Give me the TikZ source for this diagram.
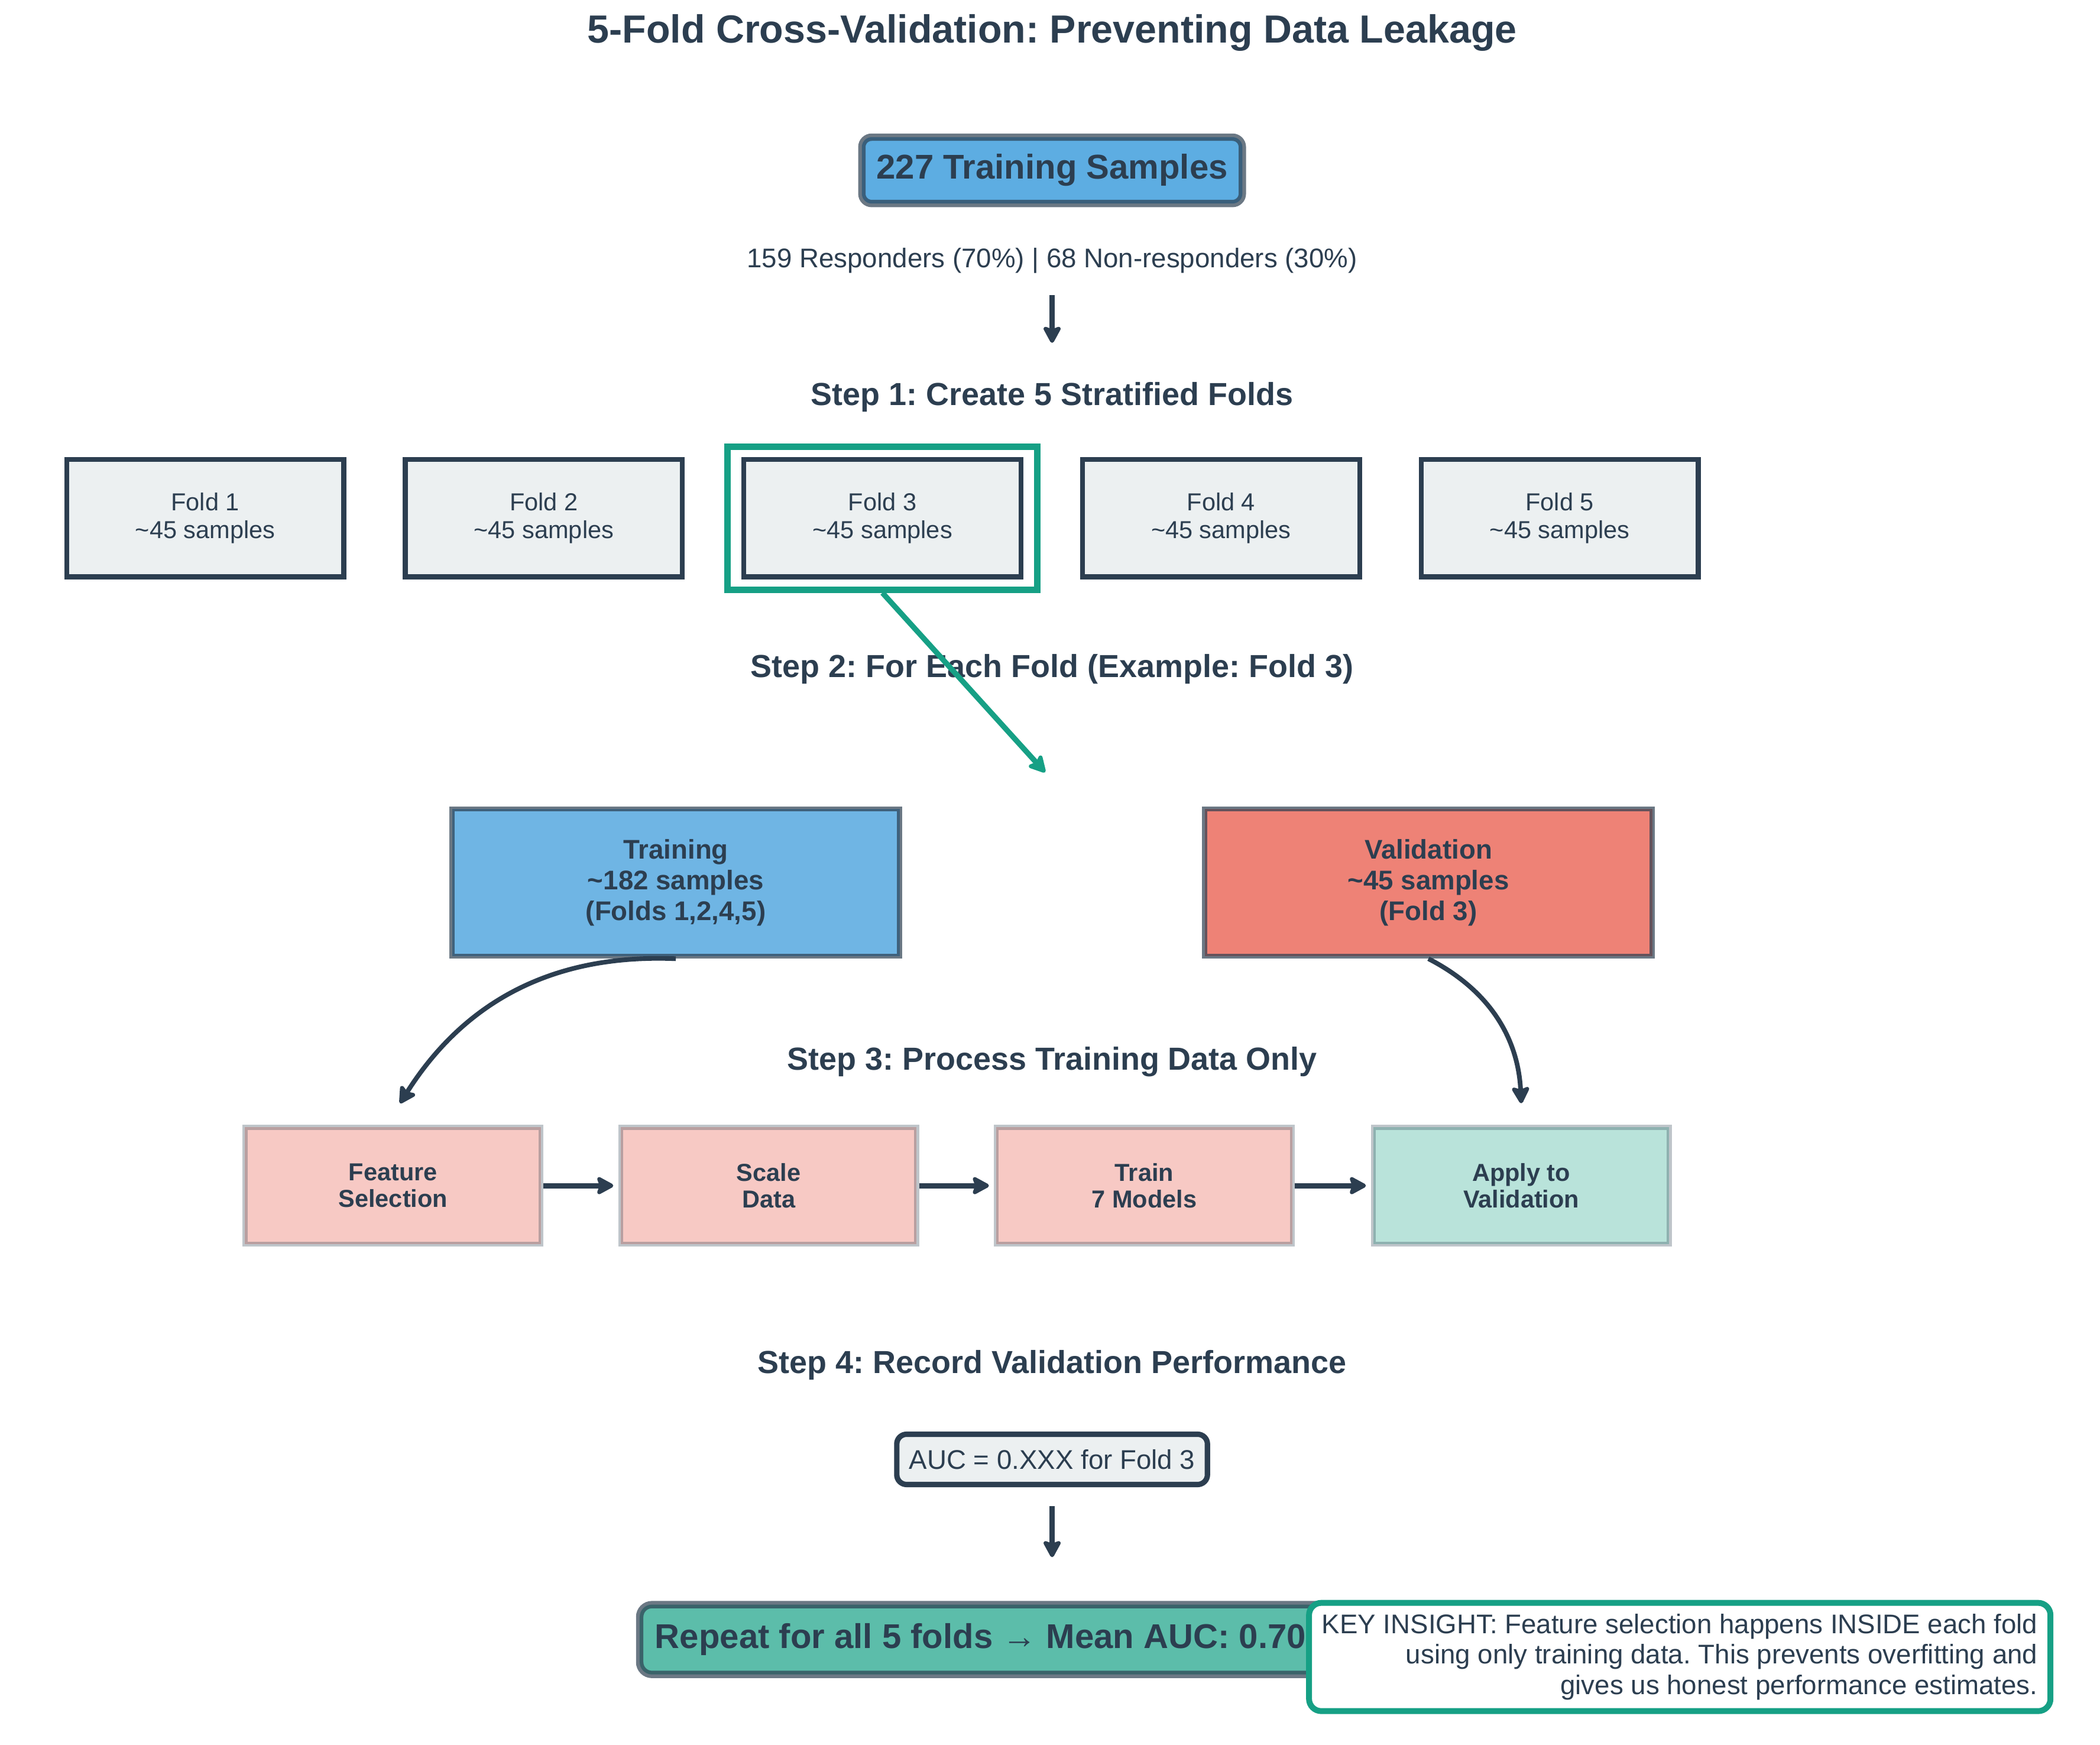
\documentclass[tikz,border=0pt]{standalone}
\usepackage{fontspec}
\setmainfont{Liberation Sans}
\usetikzlibrary{arrows.meta, positioning, fit}
\frenchspacing
\definecolor{darknavy}{RGB}{44, 62, 80}
\definecolor{sampblue}{RGB}{93, 173, 226}
\definecolor{trainblue}{RGB}{111, 181, 228}
\definecolor{valred}{RGB}{238, 130, 118}
\definecolor{procpink}{RGB}{247, 201, 196}
\definecolor{applygreen}{RGB}{185, 227, 218}
\definecolor{foldgray}{RGB}{236, 240, 241}
\definecolor{tealgreen}{RGB}{22, 160, 133}
\definecolor{repeatgreen}{RGB}{92, 189, 170}

\tikzset{
  steplabel/.style={font=\fontsize{13}{15}\selectfont\bfseries, text=darknavy},
  foldbox/.style={draw=darknavy, line width=2pt, fill=foldgray, minimum width=3.97cm, minimum height=1.68cm, align=center, text=darknavy, font=\fontsize{10}{11.5}\selectfont},
  splitbox/.style={draw=darknavy, draw opacity=0.7, line width=2pt, minimum width=6.41cm, minimum height=2.11cm, align=center, text=darknavy, font=\fontsize{11}{12.5}\selectfont\bfseries},
  procbox/.style={draw=darknavy, draw opacity=0.3, line width=2pt, fill=procpink, minimum width=4.24cm, minimum height=1.67cm, align=center, text=darknavy, font=\fontsize{10}{11}\selectfont\bfseries},
  darrow/.style={draw=darknavy, line width=2.2pt, -{Stealth[length=8pt, width=8.5pt, round, inset=1.5pt]}},
}

\begin{document}
\begin{tikzpicture}
  \useasboundingbox (0, 0) rectangle (30.08, 24.99);

  % Title
  \node[font=\fontsize{16}{19}\selectfont\bfseries, text=darknavy] (title) at (15.07, 24.52) {5-Fold Cross-Validation: Preventing Data Leakage};

  % Dataset
  \node[draw=darknavy, draw opacity=0.7, line width=3pt, fill=sampblue, rounded corners=4pt, minimum width=5.45cm, minimum height=0.95cm, font=\fontsize{14}{16}\selectfont\bfseries, text=darknavy] (total) at (15.07, 22.55) {227 Training Samples};
  \node[font=\fontsize{11}{13}\selectfont, text=darknavy] (classes) at (15.07, 21.26) {159 Responders (70\%) | 68 Non-responders (30\%)};
  \coordinate (a1s) at (15.07, 20.76);
  \coordinate (a1e) at (15.07, 20.08);
  \draw[darrow] (a1s) -- (a1e);

  % Step 1: folds
  \node[steplabel] (step1) at (15.07, 19.30) {Step 1: Create 5 Stratified Folds};
  \foreach \i in {1,...,5}
    \node[foldbox] (f\i) at ({2.94 + (\i-1)*4.85}, 17.57) {Fold \i\\\textasciitilde45 samples};
  \node[draw=tealgreen, line width=2.6pt, fit=(f3), inner xsep=0.2cm, inner ysep=0.15cm] (pick) {};

  % Step 2: split
  \node[steplabel] (step2) at (15.07, 15.41) {Step 2: For Each Fold (Example: Fold 3)};
  \coordinate (a2e) at (14.97, 13.93);
  \draw[darrow, draw=tealgreen] (pick.south) -- (a2e);
  \node[splitbox, fill=trainblue] (train) at (9.68, 12.35) {Training\\\textasciitilde182 samples\\(Folds 1,2,4,5)};
  \node[splitbox, fill=valred] (valid) at (20.46, 12.35) {Validation\\\textasciitilde45 samples\\(Fold 3)};
  \coordinate (a3e) at (5.73, 9.19);
  \coordinate (a4e) at (21.79, 9.19);
  \draw[darrow, line width=1.9pt] (train.south) to[bend right=30] (a3e);
  \draw[darrow, line width=1.9pt] (valid.south) to[bend left=30] (a4e);

  % Step 3: pipeline
  \node[steplabel] (step3) at (15.07, 9.78) {Step 3: Process Training Data Only};
  \node[procbox] (p1) at (5.63, 8.01) {Feature\\Selection};
  \node[procbox] (p2) at (11.01, 8.01) {Scale\\Data};
  \node[procbox] (p3) at (16.39, 8.01) {Train\\7 Models};
  \node[procbox, fill=applygreen] (p4) at (21.79, 8.01) {Apply to\\Validation};
  \foreach \a/\b in {p1/p2, p2/p3, p3/p4}
    \draw[darrow, shorten >=2pt] (\a) -- (\b);

  % Step 4: result
  \node[steplabel] (step4) at (15.07, 5.44) {Step 4: Record Validation Performance};
  \node[draw=darknavy, line width=2.2pt, fill=foldgray, rounded corners=4pt, minimum width=4.45cm, minimum height=0.72cm, font=\fontsize{11}{13}\selectfont, text=darknavy] (auc) at (15.07, 4.09) {AUC = 0.XXX for Fold 3};
  \coordinate (a5s) at (15.07, 3.42);
  \coordinate (a5e) at (15.07, 2.69);
  \draw[darrow] (a5s) -- (a5e);
  \node[draw=darknavy, draw opacity=0.7, line width=3pt, fill=repeatgreen, rounded corners=5pt, anchor=west, minimum height=1.0cm, inner xsep=0.22cm, font=\fontsize{14}{16}\selectfont\bfseries, text=darknavy] (repeat) at (9.11, 1.51) {Repeat for all 5 folds → Mean AUC: 0.705};

  % Key insight
  \node[draw=tealgreen, line width=2.4pt, fill=white, rounded corners=5pt, minimum width=10.62cm, minimum height=1.55cm, align=right, font=\fontsize{11}{12.3}\selectfont, text=darknavy] (insight) at (24.06, 1.26) {KEY INSIGHT: Feature selection happens INSIDE each fold\\using only training data. This prevents overfitting and\\gives us honest performance estimates.};
\end{tikzpicture}
\end{document}
